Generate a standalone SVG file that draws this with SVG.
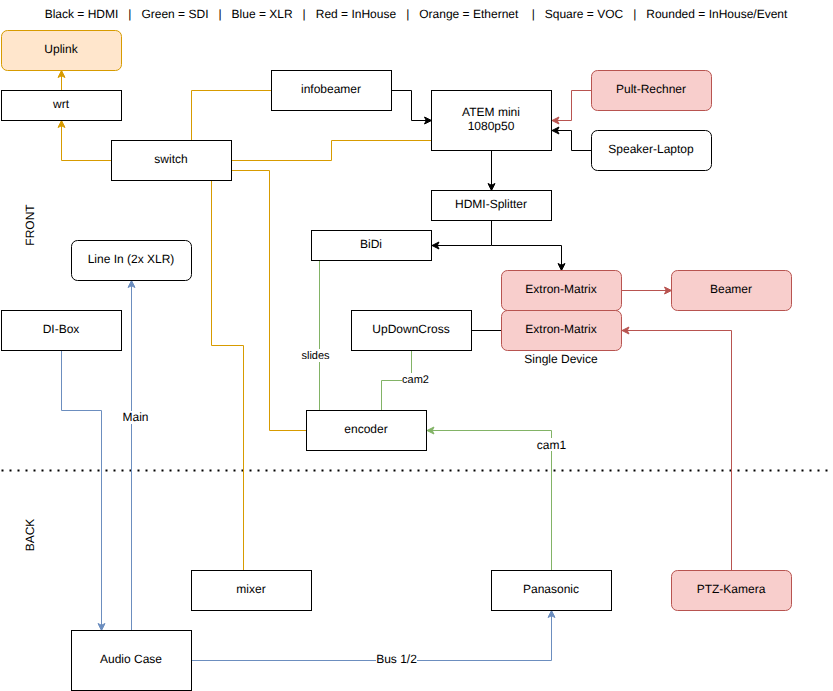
<svg xmlns="http://www.w3.org/2000/svg" width="833" height="691" viewBox="0 0 833 691">
<style>
text{font-family:"Liberation Sans",Arial,Helvetica,sans-serif;font-size:12px;fill:#000;text-anchor:middle;text-rendering:geometricPrecision}
.s{font-size:11px}
.n{fill:#fff;stroke:#000;stroke-width:1}
.r{fill:#f8cecc;stroke:#b85450;stroke-width:1}
.o{fill:#ffe6cc;stroke:#d79b00;stroke-width:1}
.c{fill:none;stroke-width:1}
.k{stroke:#000}.y{stroke:#d79b00}.g{stroke:#82b366}.b{stroke:#6c8ebf}.d{stroke:#b85450}
.l{fill:#fff}
</style>
<defs>
<marker id="ak" markerUnits="userSpaceOnUse" markerWidth="10" markerHeight="10" refX="8" refY="5" orient="auto"><path d="M1,1.5 L8,5 L1,8.5 L2.75,5 Z" fill="#000" stroke="#000"/></marker>
<marker id="ay" markerUnits="userSpaceOnUse" markerWidth="10" markerHeight="10" refX="8" refY="5" orient="auto"><path d="M1,1.5 L8,5 L1,8.5 L2.75,5 Z" fill="#d79b00" stroke="#d79b00"/></marker>
<marker id="ag" markerUnits="userSpaceOnUse" markerWidth="10" markerHeight="10" refX="8" refY="5" orient="auto"><path d="M1,1.5 L8,5 L1,8.5 L2.75,5 Z" fill="#82b366" stroke="#82b366"/></marker>
<marker id="ab" markerUnits="userSpaceOnUse" markerWidth="10" markerHeight="10" refX="8" refY="5" orient="auto"><path d="M1,1.5 L8,5 L1,8.5 L2.75,5 Z" fill="#6c8ebf" stroke="#6c8ebf"/></marker>
<marker id="ad" markerUnits="userSpaceOnUse" markerWidth="10" markerHeight="10" refX="8" refY="5" orient="auto"><path d="M1,1.5 L8,5 L1,8.5 L2.75,5 Z" fill="#b85450" stroke="#b85450"/></marker>
</defs>
<rect width="833" height="691" fill="#fff"/>
<g id="labels">
<text x="416" y="18" xml:space="preserve">Black = HDMI   |   Green = SDI   |   Blue = XLR   |   Red = InHouse   |   Orange = Ethernet    |   Square = VOC   |   Rounded = InHouse/Event</text>
<text transform="translate(34,225) rotate(-90)">FRONT</text>
<text transform="translate(34,535) rotate(-90)">BACK</text>
<text x="561" y="363">Single Device</text>
</g>
<g id="divider"><path d="M1.5,470.5 H830" fill="none" stroke="#000" stroke-width="2" stroke-dasharray="2 6"/></g>
<g id="connectors">
<path class="c y" d="M61.5,90.5 V70.5" marker-end="url(#ay)"/>
<path class="c y" d="M111.5,160.5 H61.5 V120.5" marker-end="url(#ay)"/>
<path class="c y" d="M191.5,140.5 V90.5 H271.5"/>
<path class="c y" d="M231.5,160.5 H331.5 V140.5 H431.5"/>
<path class="c y" d="M231.5,170.5 H269.5 V430.5 H306.5"/>
<path class="c y" d="M211.5,180.5 V345.5 H243.5 V570.5"/>
<path class="c k" d="M391.5,90.5 H411.5 V120.5 H431.5" marker-end="url(#ak)"/>
<path class="c d" d="M591.5,90.5 H571.5 V120.5 H552" marker-end="url(#ad)"/>
<path class="c k" d="M591.5,150.5 H571.5 V130.5 H552" marker-end="url(#ak)"/>
<path class="c k" d="M491.5,150.5 V190.5" marker-end="url(#ak)"/>
<path class="c k" d="M491.5,220.5 V245.5 H432" marker-end="url(#ak)"/>
<path class="c k" d="M491.5,245.5 H561.5 V270.5" marker-end="url(#ak)"/>
<path class="c k" d="M471.5,330.5 H501.5"/>
<path class="c d" d="M621.5,290.5 H671.5" marker-end="url(#ad)"/>
<path class="c d" d="M731.5,570.5 V330.5 H622" marker-end="url(#ad)"/>
<path class="c g" d="M319.5,260.5 V410.5"/>
<path class="c g" d="M411.5,350.5 V380.5 H381.5 V410.5"/>
<path class="c g" d="M551.5,570.5 V430.5 H427" marker-end="url(#ag)"/>
<path class="c b" d="M61.5,350.5 V410.5 H101.5 V630.5" marker-end="url(#ab)"/>
<path class="c b" d="M131.5,630.5 V280.5" marker-end="url(#ab)"/>
<path class="c b" d="M191.5,660.5 H551.5 V610.5" marker-end="url(#ab)"/>
<rect class="l" x="301" y="349" width="29" height="13"/><text class="s" x="315.5" y="359">slides</text>
<rect class="l" x="402" y="373" width="27" height="13"/><text class="s" x="415.5" y="383">cam2</text>
<rect class="l" x="537" y="438" width="29" height="13"/><text x="551.5" y="449">cam1</text>
<rect class="l" x="122" y="411" width="27" height="13"/><text x="135.5" y="421">Main</text>
<rect class="l" x="376" y="653" width="41" height="13"/><text x="396.5" y="663">Bus 1/2</text>
</g>
<g id="uplink"><rect class="o" x="1.5" y="30.5" width="120" height="40" rx="6"/><text x="61" y="53">Uplink</text></g>
<g id="wrt"><rect class="n" x="1.5" y="90.5" width="120" height="30"/><text x="61" y="108">wrt</text></g>
<g id="switch"><rect class="n" x="111.5" y="140.5" width="120" height="40"/><text x="171" y="163">switch</text></g>
<g id="infobeamer"><rect class="n" x="271.5" y="70.5" width="120" height="40"/><text x="331" y="93">infobeamer</text></g>
<g id="atem"><rect class="n" x="431.5" y="90.5" width="120" height="60"/><text x="491" y="116">ATEM mini</text><text x="491" y="130">1080p50</text></g>
<g id="pult"><rect class="r" x="591.5" y="70.5" width="120" height="40" rx="6"/><text x="651" y="93">Pult-Rechner</text></g>
<g id="speaker"><rect class="n" x="591.5" y="130.5" width="120" height="40" rx="6"/><text x="651" y="153">Speaker-Laptop</text></g>
<g id="hdmi-splitter"><rect class="n" x="431.5" y="190.5" width="120" height="30"/><text x="491" y="208">HDMI-Splitter</text></g>
<g id="bidi"><rect class="n" x="311.5" y="230.5" width="120" height="30"/><text x="371" y="248">BiDi</text></g>
<g id="linein"><rect class="n" x="71.5" y="240.5" width="120" height="40" rx="6"/><text x="131" y="263">Line In (2x XLR)</text></g>
<g id="dibox"><rect class="n" x="1.5" y="310.5" width="120" height="40"/><text x="61" y="333">DI-Box</text></g>
<g id="extron1"><rect class="r" x="501.5" y="270.5" width="120" height="40" rx="6"/><text x="561" y="293">Extron-Matrix</text></g>
<g id="extron2"><rect class="r" x="501.5" y="310.5" width="120" height="40" rx="6"/><text x="561" y="333">Extron-Matrix</text></g>
<g id="beamer"><rect class="r" x="671.5" y="270.5" width="120" height="40" rx="6"/><text x="731" y="293">Beamer</text></g>
<g id="updowncross"><rect class="n" x="351.5" y="310.5" width="120" height="40"/><text x="411" y="333">UpDownCross</text></g>
<g id="encoder"><rect class="n" x="306.5" y="410.5" width="120" height="40"/><text x="366" y="433">encoder</text></g>
<g id="mixer"><rect class="n" x="191.5" y="570.5" width="120" height="40"/><text x="251" y="593">mixer</text></g>
<g id="panasonic"><rect class="n" x="491.5" y="570.5" width="120" height="40"/><text x="551" y="593">Panasonic</text></g>
<g id="ptz"><rect class="r" x="671.5" y="570.5" width="120" height="40" rx="6"/><text x="731" y="593">PTZ-Kamera</text></g>
<g id="audiocase"><rect class="n" x="71.5" y="630.5" width="120" height="60"/><text x="131" y="663">Audio Case</text></g>
</svg>
